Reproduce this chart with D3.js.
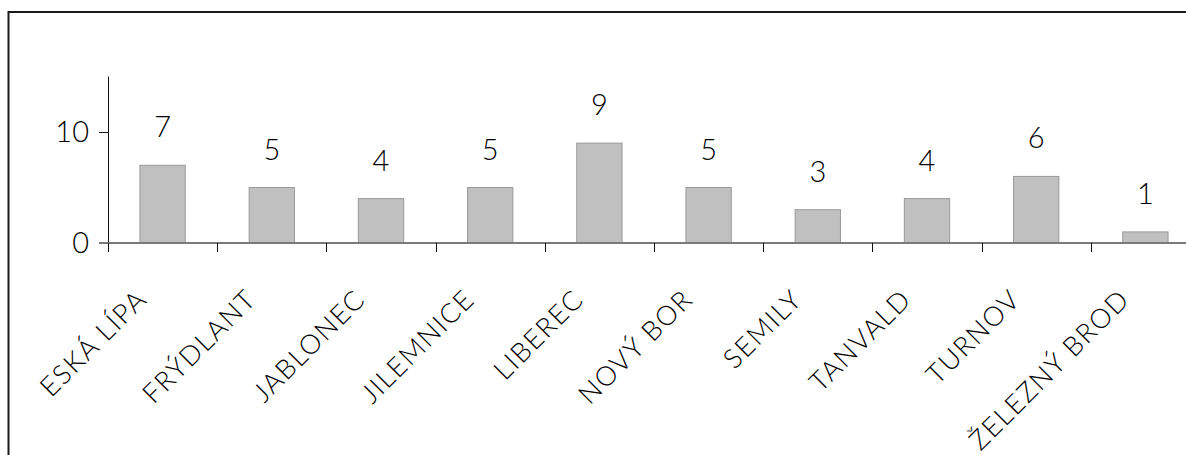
<!DOCTYPE html>
<html>
<head>
<meta charset="utf-8">
<script src="https://cdn.jsdelivr.net/npm/d3@7"></script>
<style>
  html, body { margin: 0; padding: 0; background: #fff; }
  svg { display: block; }
  text { font-family: Lato, "Open Sans", sans-serif; font-weight: 300; fill: #000; }
</style>
</head>
<body>
<svg id="chart" width="1186" height="455"></svg>
<script>
// Districts and counts
const categories = ["ESKÁ LÍPA", "FRÝDLANT", "JABLONEC", "JILEMNICE", "LIBEREC",
                    "NOVÝ BOR", "SEMILY", "TANVALD", "TURNOV", "ŽELEZNÝ BROD"];
const counts = [7, 5, 4, 5, 9, 5, 3, 4, 6, 1];
const yTicks = [0, 10];
const yMax = 15;

const svg = d3.select("#chart");

// Outer frame
svg.append("rect")
  .attr("x", 8.5).attr("y", 12)
  .attr("width", 1250).attr("height", 500)
  .attr("fill", "none")
  .attr("stroke", "#1a1a1a")
  .attr("stroke-width", 2);

const x = d3.scaleBand().domain(categories).range([108, 1200]).padding(0);
const y = d3.scaleLinear().domain([0, yMax]).range([243, 76.5]);
const barW = x.bandwidth() * 0.415;

// Bars
svg.append("g").selectAll("rect")
  .data(categories)
  .join("rect")
  .attr("x", d => x(d) + (x.bandwidth() - barW) / 2)
  .attr("y", (d, i) => y(counts[i]))
  .attr("width", barW)
  .attr("height", (d, i) => y(0) - y(counts[i]))
  .attr("fill", "#c0c0c0")
  .attr("stroke", "#9a9a9a")
  .attr("stroke-width", 1);

// Value labels above bars
svg.append("g").selectAll("text")
  .data(categories)
  .join("text")
  .attr("x", d => x(d) + x.bandwidth() / 2)
  .attr("y", (d, i) => y(counts[i]) - 28)
  .attr("text-anchor", "middle")
  .attr("font-size", 29)
  .text((d, i) => counts[i]);

// Y axis
const yAxis = svg.append("g")
  .attr("transform", "translate(108,0)")
  .call(d3.axisLeft(y).tickValues(yTicks).tickSize(9).tickPadding(10).tickFormat(d3.format("d")));
yAxis.select(".domain").remove();
yAxis.selectAll(".tick line").attr("stroke", "#111");
yAxis.selectAll(".tick text")
  .attr("font-size", 29)
  .attr("font-family", "Lato, 'Open Sans', sans-serif")
  .attr("font-weight", 300)
  .attr("fill", "#000");
svg.append("line")
  .attr("x1", 108.5).attr("x2", 108.5)
  .attr("y1", y(yMax)).attr("y2", y(0) + 9)
  .attr("stroke", "#111").attr("stroke-width", 1);

// X axis baseline and category ticks
svg.append("line")
  .attr("x1", 99).attr("x2", 1200)
  .attr("y1", y(0)).attr("y2", y(0))
  .attr("stroke", "#7a7a7a").attr("stroke-width", 2);
svg.append("g").selectAll("line")
  .data(categories)
  .join("line")
  .attr("x1", d => Math.round(x(d)) + 0.5)
  .attr("x2", d => Math.round(x(d)) + 0.5)
  .attr("y1", y(0)).attr("y2", y(0) + 9)
  .attr("stroke", "#111").attr("stroke-width", 1);

// Rotated category labels
svg.append("g").selectAll("text")
  .data(categories)
  .join("text")
  .attr("transform", d => `translate(${x(d) + x.bandwidth() / 2 - 14},301) rotate(-45)`)
  .attr("text-anchor", "end")
  .attr("font-size", 27)
  .attr("letter-spacing", 1.5)
  .text(d => d);
</script>
</body>
</html>
